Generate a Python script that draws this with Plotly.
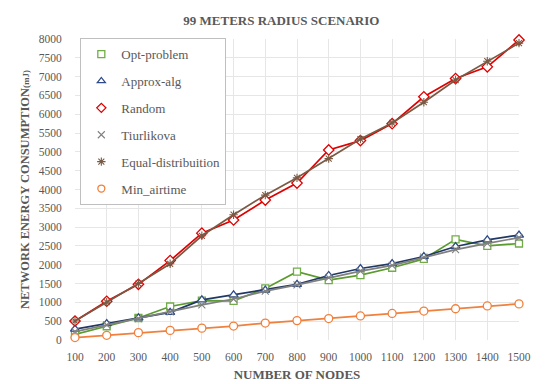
import plotly.graph_objects as go

nodes = [100, 200, 300, 400, 500, 600, 700, 800, 900, 1000, 1100, 1200, 1300, 1400, 1500]

opt_problem = [150, 365, 585, 890, 1045, 1040, 1370, 1815, 1590, 1725, 1920, 2155, 2675, 2500, 2565]
approx_alg = [290, 435, 590, 735, 1065, 1200, 1325, 1480, 1715, 1900, 2030, 2220, 2485, 2660, 2790]
random_ = [505, 1030, 1480, 2110, 2840, 3190, 3720, 4170, 5050, 5300, 5750, 6465, 6950, 7260, 7975]
tiurlikova = [220, 400, 570, 745, 935, 1090, 1300, 1465, 1655, 1830, 1985, 2200, 2400, 2570, 2720]
equal_dist = [505, 1005, 1500, 2025, 2770, 3330, 3850, 4310, 4820, 5340, 5770, 6320, 6910, 7410, 7890]
min_airtime = [65, 125, 195, 255, 315, 370, 450, 515, 570, 640, 705, 770, 830, 905, 960]

y_ticks = list(range(0, 8001, 500))
x_ticks = nodes

series = [
    ("Opt-problem", opt_problem, "#5B9B2F", "#70AD47", "square", 7),
    ("Approx-alg", approx_alg, "#203864", "#2F4B8A", "triangle-up", 8),
    ("Random", random_, "#E00000", "#E00000", "diamond", 8),
    ("Tiurlikova", tiurlikova, "#808080", "#808080", "x-thin", 7),
    ("Equal-distribuition", equal_dist, "#7A5A44", "#7A5A44", "asterisk", 7),
    ("Min_airtime", min_airtime, "#F0803C", "#F0803C", "circle", 8),
]

def make_marker(sym, sz, mc):
    if sym in ("x-thin", "asterisk"):
        return dict(symbol=sym, size=sz, color=mc, line=dict(color=mc, width=1.1))
    return dict(symbol=sym, size=sz, color="white", line=dict(color=mc, width=1.3))

fig = go.Figure()
for i, (name, vals, lc, mc, sym, sz) in enumerate(series):
    fig.add_trace(go.Scatter(
        x=nodes, y=vals, name=name, mode="lines+markers",
        line=dict(color=lc, width=1.7), marker=make_marker(sym, sz, mc),
        legendgroup="g%d" % i, showlegend=False, cliponaxis=False,
    ))
# legend entries show the marker only, as in the reference
for i, (name, vals, lc, mc, sym, sz) in enumerate(series):
    fig.add_trace(go.Scatter(
        x=[None], y=[None], name=name, mode="markers",
        marker=make_marker(sym, 7, mc), legendgroup="g%d" % i, showlegend=True,
    ))

font_serif = "'Times New Roman', 'Liberation Serif', serif"
grey = "#595959"

fig.update_layout(
    width=550, height=384,
    margin=dict(l=67, r=39, t=31, b=47),
    paper_bgcolor="white", plot_bgcolor="white",
    font=dict(family=font_serif, color=grey, size=11),
    title=dict(text="<b>99 METERS RADIUS SCENARIO</b>", x=0.497, xanchor="center",
               y=0.968, yanchor="middle", font=dict(size=13, color=grey, family=font_serif)),
    legend=dict(x=0.012, y=1.003, xanchor="left", yanchor="top",
                bgcolor="white", bordercolor="#BFBFBF", borderwidth=1,
                font=dict(size=13, color=grey, family=font_serif),
                tracegroupgap=7, itemwidth=30),
    showlegend=True,
)
fig.update_xaxes(
    range=[100, 1500], tickvals=x_ticks, ticktext=[str(v) for v in x_ticks],
    showgrid=True, gridcolor="#E6E6E6", gridwidth=1, zeroline=False,
    showline=False, ticks="outside", ticklen=6, tickcolor="rgba(0,0,0,0)",
    tickfont=dict(size=11.5, color=grey, family=font_serif),
    title=dict(text="<b>NUMBER OF NODES</b>", font=dict(size=13, color=grey, family=font_serif), standoff=8),
)
fig.update_yaxes(
    range=[0, 8000], tickvals=y_ticks, ticktext=[str(v) for v in y_ticks],
    showgrid=True, gridcolor="#E6E6E6", gridwidth=1, zeroline=False,
    showline=False, ticks="outside", ticklen=10, tickcolor="rgba(0,0,0,0)",
    tickfont=dict(size=11.5, color=grey, family=font_serif),
    title=dict(text="<b>NETWORK ENERGY CONSUMPTION<span style='font-size:9px'>(mJ)</span></b>",
               font=dict(size=12.5, color=grey, family=font_serif), standoff=6),
)

fig.write_html("out.html")
